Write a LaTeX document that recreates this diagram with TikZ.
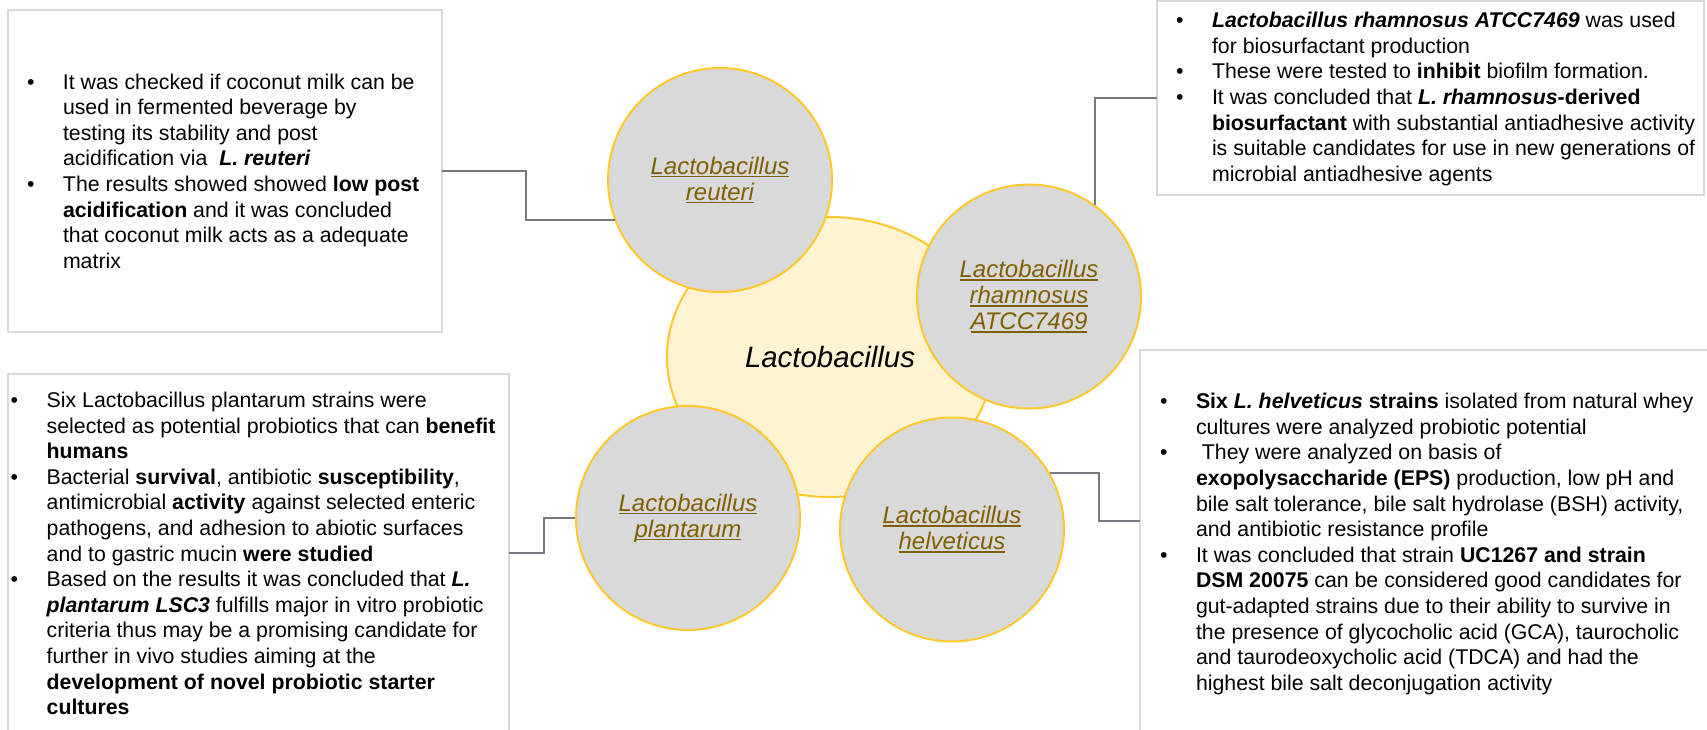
\documentclass[tikz,border=0pt]{standalone}
\usepackage{fontspec}
\setmainfont{Liberation Sans}
\usetikzlibrary{shapes.geometric,calc}

\definecolor{ringgold}{HTML}{FFC72C}
\definecolor{satfill}{HTML}{D9D9D9}
\definecolor{hubfill}{HTML}{FFF3D2}
\definecolor{labelbrown}{HTML}{7F6000}
\definecolor{linkgray}{HTML}{78787F}
\definecolor{boxframe}{HTML}{D9D9D9}

% underline at a fixed depth below the baseline
\newcommand{\undl}[1]{\setbox0\hbox{#1}\rlap{\rule[-0.13em]{\wd0}{0.065em}}\box0}
\newcommand{\notefont}{\fontsize{10.65pt}{12.8pt}\selectfont}
\newcommand{\bi}[1]{\textbf{\textit{#1}}}

\tikzset{
  notebox/.style={rectangle, draw=boxframe, line width=1pt, inner sep=0pt, outer sep=0pt},
  notetext/.style={anchor=base west, inner sep=0pt, outer sep=0pt, font=\notefont},
  hub/.style={ellipse, draw=ringgold, fill=hubfill, line width=1pt,
    minimum width=163pt, minimum height=140pt, inner sep=0pt,
    font=\fontsize{14.7pt}{17pt}\selectfont\itshape},
  strain/.style={circle, draw=ringgold, fill=satfill, line width=1pt,
    minimum size=112pt, inner sep=0pt, align=center,
    font=\fontsize{12pt}{13pt}\selectfont\itshape, text=labelbrown},
  link/.style={draw=linkgray, line width=1pt},
}

\begin{document}
\begin{tikzpicture}[x=0.5pt, y=-0.5pt]
\clip (0,0) rectangle (1707,729);
\fill[white] (0,0) rectangle (1707,729);

% note frames
\node[notebox, minimum width=217pt, minimum height=161pt] (b1) at (225,171) {};
\node[notebox, minimum width=273.5pt, minimum height=97pt] (b2) at (1430.5,98) {};
\node[notebox, minimum width=250.5pt, minimum height=193pt] (b3) at (258.5,567) {};
\node[notebox, minimum width=290pt, minimum height=205pt] (b4) at (1430,555) {};

% note texts
\node[notetext] (t1) at (27,89) {\begin{tabular}[t]{@{}p{18pt}@{}l@{}}
• & It was checked if coconut milk can be\\
  & used in fermented beverage by\\
  & testing its stability and post\\
  & acidification via~ \bi{L. reuteri}\\
• & The results showed showed \textbf{low post}\\
  & \textbf{acidification} and it was concluded\\
  & that coconut milk acts as a adequate\\
  & matrix
\end{tabular}};

\node[notetext] (t2) at (1176,27.7) {\begin{tabular}[t]{@{}p{18pt}@{}l@{}}
• & \bi{Lactobacillus rhamnosus ATCC7469} was used\\
  & for biosurfactant production\\
• & These were tested to \textbf{inhibit} biofilm formation.\\
• & It was concluded that \textbf{\textit{L. rhamnosus}-derived}\\
  & \textbf{biosurfactant} with substantial antiadhesive activity\\
  & is suitable candidates for use in new generations of\\
  & microbial antiadhesive agents
\end{tabular}};

\node[notetext] (t3) at (10.7,407.5) {\begin{tabular}[t]{@{}p{18pt}@{}l@{}}
• & Six Lactobacillus plantarum strains were\\
  & selected as potential probiotics that can \textbf{benefit}\\
  & \textbf{humans}\\
• & Bacterial \textbf{survival}, antibiotic \textbf{susceptibility},\\
  & antimicrobial \textbf{activity} against selected enteric\\
  & pathogens, and adhesion to abiotic surfaces\\
  & and to gastric mucin \textbf{were studied}\\
• & Based on the results it was concluded that \bi{L.}\\
  & \bi{plantarum LSC3} fulfills major in vitro probiotic\\
  & criteria thus may be a promising candidate for\\
  & further in vivo studies aiming at the\\
  & \textbf{development of novel probiotic starter}\\
  & \textbf{cultures}
\end{tabular}};

\node[notetext] (t4) at (1160,408.7) {\begin{tabular}[t]{@{}p{18pt}@{}l@{}}
• & \textbf{Six \textit{L. helveticus} strains} isolated from natural whey\\
  & cultures were analyzed probiotic potential\\
• & \ They were analyzed on basis of\\
  & \textbf{exopolysaccharide (EPS)} production, low pH and\\
  & bile salt tolerance, bile salt hydrolase (BSH) activity,\\
  & and antibiotic resistance profile\\
• & It was concluded that strain \textbf{UC1267 and strain}\\
  & \textbf{DSM 20075} can be considered good candidates for\\
  & gut-adapted strains due to their ability to survive in\\
  & the presence of glycocholic acid (GCA), taurocholic\\
  & and taurodeoxycholic acid (TDCA) and had the\\
  & highest bile salt deconjugation activity
\end{tabular}};

% central genus and the four strains around it
\node[hub] (hub) at (830,357) {Lactobacillus};
\node[strain] (rc) at (720,180) {\undl{Lactobacillus}\\\undl{reuteri}};
\node[strain] (rh) at (1029,296.5) {\undl{Lactobacillus}\\\undl{rhamnosus}\\\undl{ATCC7469}};
\node[strain] (pl) at (688,518) {\undl{Lactobacillus}\\\undl{plantarum}};
\node[strain] (hv) at (952,529.5) {\undl{Lactobacillus}\\\undl{helveticus}};

% attachment points on the open-ended frames
\coordinate (b3in) at ($(b3.north east)+(0,179)$);
\coordinate (b4in) at ($(b4.north west)+(0,171)$);

% elbow connectors
\draw[link] (b1.east) -- ++(84,0) |- (rc.201);
\draw[link] (rh.54) |- (b2.west);
\draw[link] (hv.30) -- ++(49,0) |- (b4in);
\draw[link] (pl.west) -- ++(-31,0) |- (b3in);
\end{tikzpicture}
\end{document}
